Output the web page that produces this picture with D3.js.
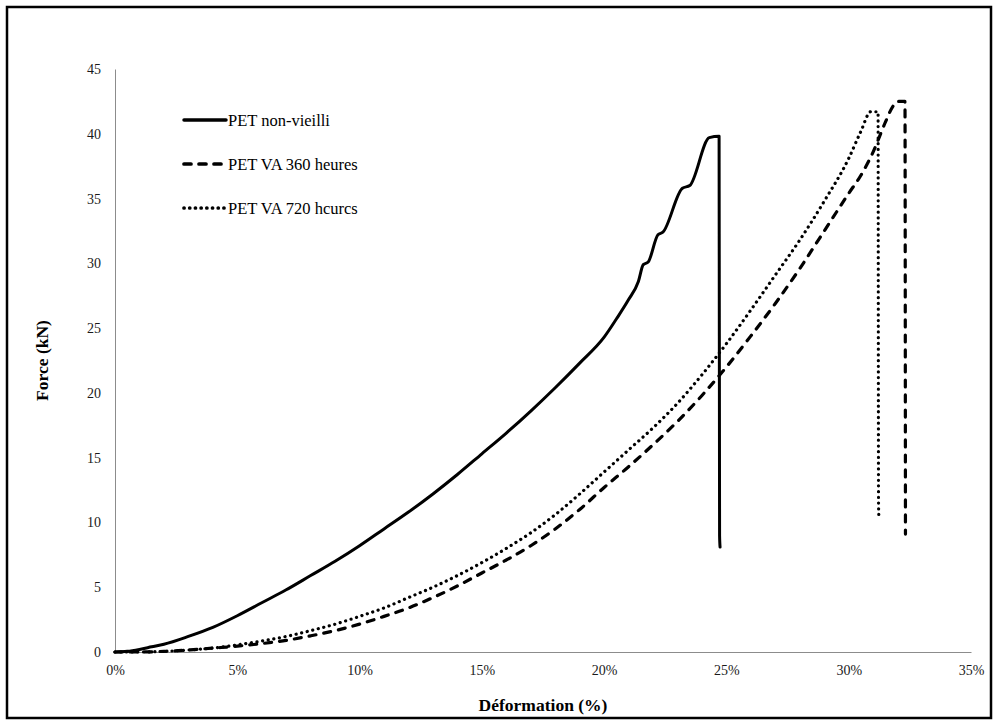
<!DOCTYPE html>
<html>
<head>
<meta charset="utf-8">
<script src="https://cdn.jsdelivr.net/npm/d3@7"></script>
<style>
  html, body { margin: 0; padding: 0; background: #fff; }
  svg { display: block; }
  text { font-family: "Liberation Serif", "Times New Roman", serif; }
</style>
</head>
<body>
<svg id="chart" width="997" height="725"></svg>
<script>
// ---- Data ----
const seriesNames = ["PET non-vieilli", "PET VA 360 heures", "PET VA 720 heures"];
const legendLabels = ["PET non-vieilli", "PET VA 360 heures", "PET VA 720 hcurcs"];

// PET non-vieilli : strain (%) / force (kN)
const strainRef = [0,0.5,1,1.5,2,3,4,5,6,7,8,9,10,11,12,13,14,15,16,17,18,19,20,20.5,21,21.4,21.6,21.8,22.2,22.4,23.2,23.5,24.3,24.7,24.72,24.74];
const forceRef  = [0,0.05,0.2,0.4,0.6,1.2,1.9,2.8,3.8,4.8,5.9,7.0,8.2,9.5,10.8,12.2,13.7,15.3,16.9,18.6,20.4,22.3,24.3,25.7,27.2,28.6,29.9,30.1,32.2,32.4,35.8,36.0,39.7,39.8,9.0,8.1];

// PET VA 360 heures
const strain360 = [0,1,2,3,4,5,6,7,8,9,10,11,12,13,14,15,16,17,18,19,20,21,22,23,24,25,26,27,28,29,30,30.5,31,31.5,31.8,32.0,32.3,32.32];
const force360  = [0,0,0.05,0.15,0.3,0.45,0.65,0.9,1.25,1.65,2.15,2.75,3.4,4.2,5.1,6.1,7.1,8.2,9.5,11.0,12.7,14.3,16.0,17.8,19.8,22.0,24.4,26.9,29.6,32.5,35.4,36.8,38.6,40.9,42.1,42.5,42.5,9.1];

// PET VA 720 heures
const strain720 = [0,1,2,3,4,5,6,7,8,9,10,11,12,13,14,15,16,17,18,19,20,21,22,23,24,25,26,27,28,29,30,30.5,30.9,31.2,31.22,31.24];
const force720  = [0,0,0.05,0.15,0.3,0.55,0.85,1.2,1.65,2.15,2.75,3.4,4.2,5.0,5.9,6.9,8.0,9.2,10.6,12.2,13.9,15.6,17.3,19.2,21.4,23.8,26.4,29.1,31.8,34.8,38.1,40.2,41.7,41.7,11.3,10.2];

const xTicks = [0,5,10,15,20,25,30,35];
const yTicks = [0,5,10,15,20,25,30,35,40,45];

const xTitle = "Déformation (%)";
const yTitle = "Force (kN)";

// ---- Layout ----
const FONT = "'Liberation Serif', 'Times New Roman', serif";
const svg = d3.select("#chart");
const W = 997, H = 725;
const plot = { left: 115, right: 971, top: 69, bottom: 652 };

svg.append("rect").attr("x", 0).attr("y", 0).attr("width", W).attr("height", H).attr("fill", "#fff");
// outer frame
svg.append("rect").attr("x", 7).attr("y", 7).attr("width", 984).attr("height", 711)
  .attr("fill", "none").attr("stroke", "#000").attr("stroke-width", 2.5);

const x = d3.scaleLinear().domain([0, 35]).range([plot.left, plot.right]);
const y = d3.scaleLinear().domain([0, 45]).range([plot.bottom, plot.top]);

// axes
const xAxis = d3.axisBottom(x).tickValues(xTicks).tickFormat(d => d + "%").tickSize(0).tickPadding(13);
const yAxis = d3.axisLeft(y).tickValues(yTicks).tickFormat(d3.format("d")).tickSize(0).tickPadding(14);

const gx = svg.append("g").attr("transform", `translate(0,${plot.bottom})`).call(xAxis);
const gy = svg.append("g").attr("transform", `translate(${plot.left},0)`).call(yAxis);
[gx, gy].forEach(g => {
  g.attr("font-family", FONT);
  g.select(".domain").attr("stroke", "#8c8c8c").attr("stroke-width", 1);
  g.selectAll("text").attr("font-family", FONT).attr("font-size", 14).attr("fill", "#1a1a1a");
});

// axis titles
svg.append("text").attr("x", (plot.left + plot.right) / 2).attr("y", 711)
  .attr("font-family", FONT)
  .attr("text-anchor", "middle").attr("font-size", 17.5).attr("font-weight", "bold").text(xTitle);
svg.append("text").attr("transform", `translate(48,${(plot.top + plot.bottom) / 2}) rotate(-90)`)
  .attr("font-family", FONT)
  .attr("text-anchor", "middle").attr("font-size", 17.5).attr("font-weight", "bold").text(yTitle);

// series
const styles = [
  { dash: null, width: 3, cap: "round" },
  { dash: "7,8", width: 3.2, cap: "round" },
  { dash: "0.1,5.6", width: 3.2, cap: "round" }
];
const series = [
  { xs: strainRef, ys: forceRef },
  { xs: strain360, ys: force360 },
  { xs: strain720, ys: force720 }
];
const line = d3.line().x(d => x(d[0])).y(d => y(d[1])).curve(d3.curveMonotoneX);

series.forEach((s, i) => {
  const pts = s.xs.map((v, k) => [v, s.ys[k]]);
  svg.append("path").datum(pts).attr("d", line)
    .attr("fill", "none").attr("stroke", "#000")
    .attr("stroke-width", styles[i].width)
    .attr("stroke-linecap", styles[i].cap)
    .attr("stroke-linejoin", "round")
    .attr("stroke-dasharray", styles[i].dash);
});

// legend
const legend = svg.append("g");
legendLabels.forEach((lab, i) => {
  const ly = 120 + i * 44;
  legend.append("line").attr("x1", 184).attr("x2", 226).attr("y1", ly).attr("y2", ly)
    .attr("stroke", "#000").attr("stroke-width", styles[i].width + 0.5)
    .attr("stroke-linecap", styles[i].cap)
    .attr("stroke-dasharray", styles[i].dash);
  legend.append("text").attr("x", 228).attr("y", ly + 5.5).attr("font-size", 16.5)
    .attr("font-family", FONT)
    .attr("fill", "#000").text(lab);
});
</script>
</body>
</html>
